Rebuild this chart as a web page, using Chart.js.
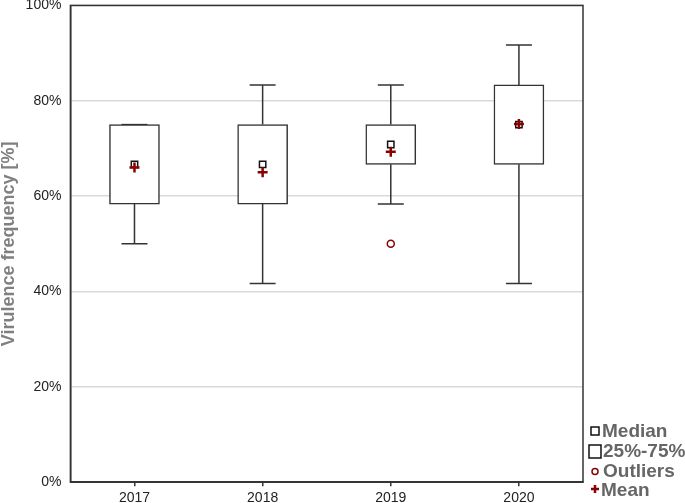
<!DOCTYPE html>
<html>
<head>
<meta charset="utf-8">
<script src="https://cdn.jsdelivr.net/npm/chart.js@4/dist/chart.umd.min.js"></script>
<style>
    html, body { margin: 0; padding: 0; background: #fff; overflow: hidden; }
    #wrap { width: 685px; height: 503px; overflow: hidden; position: relative; }
    #inner { width: 685px; height: 523px; position: absolute; top: -12px; left: 0; }
</style>
</head>
<body>
<div id="wrap"><div id="inner"><canvas id="boxChart"></canvas></div></div>
<script>
// ================= DATA =================
const years = ["2017", "2018", "2019", "2020"];
const mins = [50, 41.67, 58.33, 41.67];
const q1 = [58.33, 58.33, 66.67, 66.67];
const medians = [66.67, 66.67, 70.83, 75];
const q3 = [75, 75, 75, 83.33];
const maxs = [75, 83.33, 83.33, 91.67];
const means = [66.0, 65.0, 69.3, 75.1];
const outliers = [null, null, 50, null];

const yTicks = [0, 20, 40, 60, 80, 100];

const DARK = "#333333";
const RED = "#8B0000";

// ================= WHISKERS + FRAME + LEGEND =================
const whiskerPlugin = {
    id: "whiskers",
    beforeDatasetsDraw(chart) {
        const { ctx, scales: { x, y } } = chart;
        ctx.save();
        ctx.strokeStyle = DARK;
        ctx.lineWidth = 1.5;
        years.forEach((yr, i) => {
            const cx = x.getPixelForValue(i);
            const pairs = [[q3[i], maxs[i]], [q1[i], mins[i]]];
            pairs.forEach(([from, to]) => {
                ctx.beginPath();
                ctx.moveTo(cx, y.getPixelForValue(from));
                ctx.lineTo(cx, y.getPixelForValue(to));
                ctx.moveTo(cx - 13, y.getPixelForValue(to));
                ctx.lineTo(cx + 13, y.getPixelForValue(to));
                ctx.stroke();
            });
        });
        ctx.restore();
    },
    afterDraw(chart) {
        const { ctx, chartArea: a } = chart;
        ctx.save();
        ctx.strokeStyle = DARK;
        ctx.lineWidth = 1.5;
        ctx.strokeRect(a.left, a.top, a.right - a.left, a.bottom - a.top);

        // legend (bottom right, outside plot); canvas is shifted up 12px
        const lx = a.right + 12;
        const oy = 12;
        ctx.font = "bold 19px 'Liberation Sans', Arial, sans-serif";
        ctx.fillStyle = "#666";
        ctx.textBaseline = "middle";
        ctx.textAlign = "left";

        ctx.strokeStyle = "#111";
        ctx.lineWidth = 1.5;
        ctx.strokeRect(lx - 4, oy + 427, 8, 8);
        ctx.fillText("Median", lx + 7, oy + 432);

        ctx.strokeRect(lx - 6, oy + 445, 12, 13);
        ctx.fillText("25%-75%", lx + 8, oy + 452);

        ctx.strokeStyle = RED;
        ctx.beginPath();
        ctx.arc(lx, oy + 471.5, 3, 0, Math.PI * 2);
        ctx.stroke();
        ctx.fillText("Outliers", lx + 8, oy + 472);

        ctx.lineWidth = 2.5;
        ctx.beginPath();
        ctx.moveTo(lx - 4, oy + 489);
        ctx.lineTo(lx + 4, oy + 489);
        ctx.moveTo(lx, oy + 485);
        ctx.lineTo(lx, oy + 493);
        ctx.stroke();
        ctx.fillText("Mean", lx + 6, oy + 491);
        ctx.restore();
    }
};

// ================= CHART =================
new Chart(document.getElementById("boxChart"), {
    type: "bar",
    data: {
        labels: years,
        datasets: [
            {
                label: "25%-75%",
                data: years.map((yr, i) => [q1[i], q3[i]]),
                backgroundColor: "#fff",
                borderColor: DARK,
                borderWidth: 1.5,
                borderSkipped: false,
                barThickness: 50,
                order: 3
            },
            {
                type: "line",
                label: "Median",
                data: medians,
                showLine: false,
                pointStyle: "rect",
                pointRadius: 4.5,
                pointBackgroundColor: "#fff",
                pointBorderColor: "#111",
                pointBorderWidth: 1.5,
                order: 2
            },
            {
                type: "line",
                label: "Mean",
                data: means,
                showLine: false,
                pointStyle: "cross",
                pointRadius: 5,
                pointBorderColor: RED,
                pointBorderWidth: 2.5,
                order: 1
            },
            {
                type: "line",
                label: "Outliers",
                data: outliers,
                showLine: false,
                pointStyle: "circle",
                pointRadius: 3.5,
                pointBackgroundColor: "#fff",
                pointBorderColor: RED,
                pointBorderWidth: 1.5,
                order: 1
            }
        ]
    },
    options: {
        responsive: true,
        maintainAspectRatio: false,
        animation: false,
        layout: { padding: { right: 102, top: 0, bottom: 0, left: -2 } },
        plugins: {
            legend: { display: false },
            tooltip: { enabled: false }
        },
        scales: {
            x: {
                offset: true,
                grid: {
                    offset: false,
                    drawOnChartArea: false,
                    drawTicks: true,
                    tickLength: 4,
                    color: DARK,
                    lineWidth: 1.5
                },
                border: { color: DARK, width: 1.5 },
                ticks: {
                    color: "#222",
                    padding: 4,
                    font: { family: "'Liberation Sans', Arial, sans-serif", size: 14 }
                }
            },
            y: {
                min: 0,
                max: 100,
                afterBuildTicks: axis => { axis.ticks = yTicks.map(v => ({ value: v })); },
                grid: {
                    color: "#d9d9d9",
                    lineWidth: 1.5,
                    drawTicks: false
                },
                border: { color: DARK, width: 1.5 },
                ticks: {
                    color: "#222",
                    padding: 9,
                    callback: v => v + "%",
                    font: { family: "'Liberation Sans', Arial, sans-serif", size: 14 }
                },
                title: {
                    display: true,
                    text: "Virulence frequency [%]",
                    color: "#808080",
                    padding: { top: 0, bottom: -3 },
                    font: { family: "'Liberation Sans', Arial, sans-serif", size: 18, weight: "bold" }
                }
            }
        }
    },
    plugins: [whiskerPlugin]
});
</script>
</body>
</html>
